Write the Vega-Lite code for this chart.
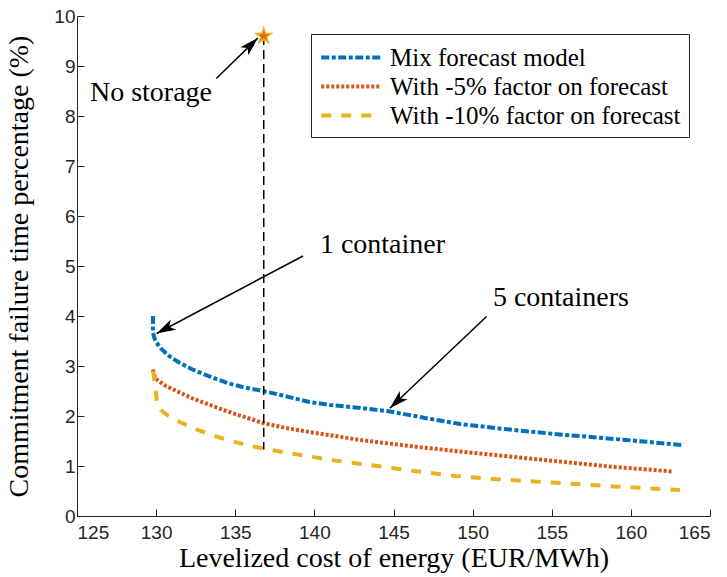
{
  "$schema": "https://vega.github.io/schema/vega-lite/v6.json",
  "width": 633,
  "height": 500,
  "autosize": {"type": "none"},
  "padding": {"left": 77, "top": 16, "right": 17, "bottom": 61},
  "background": "white",
  "config": {
    "view": {"stroke": null},
    "axis": {
      "domainColor": "#262626",
      "tickColor": "#262626",
      "labelColor": "#262626",
      "labelFont": "Liberation Sans",
      "labelFontSize": 19,
      "titleFont": "Liberation Serif",
      "titleFontSize": 28,
      "titleFontWeight": "normal",
      "titleColor": "#000000",
      "grid": false,
      "tickSize": -7
    }
  },
  "datasets": {
    "curves": [
      {"series": "Mix forecast model", "cost": 129.8, "failure": 4.0},
      {"series": "Mix forecast model", "cost": 129.8, "failure": 3.66},
      {"series": "Mix forecast model", "cost": 129.95, "failure": 3.5},
      {"series": "Mix forecast model", "cost": 130.3, "failure": 3.35},
      {"series": "Mix forecast model", "cost": 130.9, "failure": 3.18},
      {"series": "Mix forecast model", "cost": 131.5, "failure": 3.06},
      {"series": "Mix forecast model", "cost": 132.3, "failure": 2.93},
      {"series": "Mix forecast model", "cost": 133.3, "failure": 2.8},
      {"series": "Mix forecast model", "cost": 134.5, "failure": 2.66},
      {"series": "Mix forecast model", "cost": 135.6, "failure": 2.57},
      {"series": "Mix forecast model", "cost": 136.75, "failure": 2.5},
      {"series": "Mix forecast model", "cost": 138.0, "failure": 2.41},
      {"series": "Mix forecast model", "cost": 139.7, "failure": 2.28},
      {"series": "Mix forecast model", "cost": 141.0, "failure": 2.22},
      {"series": "Mix forecast model", "cost": 142.9, "failure": 2.16},
      {"series": "Mix forecast model", "cost": 144.8, "failure": 2.09},
      {"series": "Mix forecast model", "cost": 147.0, "failure": 1.96},
      {"series": "Mix forecast model", "cost": 149.2, "failure": 1.84},
      {"series": "Mix forecast model", "cost": 152.0, "failure": 1.74},
      {"series": "Mix forecast model", "cost": 155.5, "failure": 1.63},
      {"series": "Mix forecast model", "cost": 157.5, "failure": 1.58},
      {"series": "Mix forecast model", "cost": 159.7, "failure": 1.52},
      {"series": "Mix forecast model", "cost": 161.5, "failure": 1.47},
      {"series": "Mix forecast model", "cost": 163.2, "failure": 1.42},
      {"series": "With -5% factor on forecast", "cost": 129.8, "failure": 2.93},
      {"series": "With -5% factor on forecast", "cost": 129.95, "failure": 2.75},
      {"series": "With -5% factor on forecast", "cost": 130.5, "failure": 2.62},
      {"series": "With -5% factor on forecast", "cost": 131.3, "failure": 2.5},
      {"series": "With -5% factor on forecast", "cost": 132.3, "failure": 2.35},
      {"series": "With -5% factor on forecast", "cost": 133.4, "failure": 2.22},
      {"series": "With -5% factor on forecast", "cost": 134.8, "failure": 2.06},
      {"series": "With -5% factor on forecast", "cost": 136.75, "failure": 1.86},
      {"series": "With -5% factor on forecast", "cost": 138.2, "failure": 1.76},
      {"series": "With -5% factor on forecast", "cost": 139.7, "failure": 1.68},
      {"series": "With -5% factor on forecast", "cost": 141.3, "failure": 1.6},
      {"series": "With -5% factor on forecast", "cost": 142.9, "failure": 1.52},
      {"series": "With -5% factor on forecast", "cost": 146.0, "failure": 1.4},
      {"series": "With -5% factor on forecast", "cost": 149.2, "failure": 1.29},
      {"series": "With -5% factor on forecast", "cost": 152.3, "failure": 1.19},
      {"series": "With -5% factor on forecast", "cost": 155.5, "failure": 1.09},
      {"series": "With -5% factor on forecast", "cost": 159.0, "failure": 0.98},
      {"series": "With -5% factor on forecast", "cost": 162.65, "failure": 0.89},
      {"series": "With -10% factor on forecast", "cost": 129.8, "failure": 2.9},
      {"series": "With -10% factor on forecast", "cost": 129.95, "failure": 2.6},
      {"series": "With -10% factor on forecast", "cost": 130.05, "failure": 2.3},
      {"series": "With -10% factor on forecast", "cost": 130.3, "failure": 2.12},
      {"series": "With -10% factor on forecast", "cost": 130.7, "failure": 2.02},
      {"series": "With -10% factor on forecast", "cost": 131.5, "failure": 1.88},
      {"series": "With -10% factor on forecast", "cost": 132.3, "failure": 1.76},
      {"series": "With -10% factor on forecast", "cost": 133.4, "failure": 1.63},
      {"series": "With -10% factor on forecast", "cost": 134.5, "failure": 1.52},
      {"series": "With -10% factor on forecast", "cost": 135.6, "failure": 1.43},
      {"series": "With -10% factor on forecast", "cost": 136.75, "failure": 1.35},
      {"series": "With -10% factor on forecast", "cost": 138.2, "failure": 1.27},
      {"series": "With -10% factor on forecast", "cost": 139.7, "failure": 1.19},
      {"series": "With -10% factor on forecast", "cost": 141.3, "failure": 1.11},
      {"series": "With -10% factor on forecast", "cost": 143.5, "failure": 1.02},
      {"series": "With -10% factor on forecast", "cost": 146.3, "failure": 0.9},
      {"series": "With -10% factor on forecast", "cost": 149.2, "failure": 0.79},
      {"series": "With -10% factor on forecast", "cost": 152.3, "failure": 0.72},
      {"series": "With -10% factor on forecast", "cost": 155.5, "failure": 0.66},
      {"series": "With -10% factor on forecast", "cost": 159.0, "failure": 0.59},
      {"series": "With -10% factor on forecast", "cost": 163.1, "failure": 0.52}
    ],
    "nostorage": [
      {"cost": 136.8, "failure": 9.6},
      {"cost": 136.8, "failure": 1.33}
    ],
    "star": [
      {"cost": 136.8, "failure": 9.6}
    ],
    "arrows": [
      {"arrow": "No storage", "cost": 133.8, "failure": 8.75},
      {"arrow": "No storage", "cost": 136.43, "failure": 9.56},
      {"arrow": "1 container", "cost": 139.28, "failure": 5.2},
      {"arrow": "1 container", "cost": 130.03, "failure": 3.65},
      {"arrow": "5 containers", "cost": 150.88, "failure": 3.99},
      {"arrow": "5 containers", "cost": 144.77, "failure": 2.154}
    ],
    "tips": [
      {"arrow": "No storage", "cost": 136.43, "failure": 9.56},
      {"arrow": "1 container", "cost": 130.03, "failure": 3.65},
      {"arrow": "5 containers", "cost": 144.77, "failure": 2.154}
    ],
    "labels": [
      {"label": "No storage", "cost": 125.82, "failure": 8.46},
      {"label": "1 container", "cost": 140.35, "failure": 5.42},
      {"label": "5 containers", "cost": 151.28, "failure": 4.36}
    ]
  },
  "layer": [
    {
      "data": {"name": "curves"},
      "mark": {"type": "line", "strokeWidth": 4, "strokeCap": "butt"},
      "encoding": {
        "x": {
          "field": "cost", "type": "quantitative",
          "scale": {"domain": [125, 165], "nice": false, "zero": false},
          "axis": {"title": "Levelized cost of energy (EUR/MWh)", "values": [125, 130, 135, 140, 145, 150, 155, 160, 165], "labelPadding": 14, "titlePadding": 2}
        },
        "y": {
          "field": "failure", "type": "quantitative",
          "scale": {"domain": [0, 10], "nice": false},
          "axis": {"title": "Commitment failure time percentage (%)", "values": [0, 1, 2, 3, 4, 5, 6, 7, 8, 9, 10], "labelPadding": 9, "titlePadding": 20}
        },
        "color": {
          "field": "series", "type": "nominal",
          "scale": {"domain": ["Mix forecast model", "With -5% factor on forecast", "With -10% factor on forecast"], "range": ["#0072BD", "#D95319", "#EDB120"]},
          "legend": {
            "title": null, "orient": "none", "legendX": 234, "legendY": 18,
            "symbolType": "M-1,0L3.53,0", "symbolSize": 702, "symbolStrokeWidth": 4,
            "labelFont": "Liberation Serif", "labelFontSize": 25, "labelColor": "#000000",
            "labelOffset": 40, "rowPadding": 0, "padding": 8,
            "strokeColor": "#262626", "fillColor": "white", "labelLimit": 400
          }
        },
        "strokeDash": {
          "field": "series", "type": "nominal",
          "scale": {"domain": ["Mix forecast model", "With -5% factor on forecast", "With -10% factor on forecast"], "range": [[8, 2.5, 4, 2.5], [3, 2], [10, 10]]},
          "legend": {
            "title": null, "orient": "none", "legendX": 234, "legendY": 18,
            "symbolType": "M-1,0L3.53,0", "symbolSize": 702, "symbolStrokeWidth": 4,
            "labelFont": "Liberation Serif", "labelFontSize": 25, "labelColor": "#000000",
            "labelOffset": 40, "rowPadding": 0, "padding": 8,
            "strokeColor": "#262626", "fillColor": "white", "labelLimit": 400
          }
        },
        "order": {"value": null}
      }
    },
    {
      "data": {"name": "nostorage"},
      "mark": {"type": "line", "color": "#000000", "strokeWidth": 1.5, "strokeDash": [9, 5]},
      "encoding": {
        "x": {"field": "cost", "type": "quantitative"},
        "y": {"field": "failure", "type": "quantitative"},
        "order": {"value": null}
      }
    },
    {
      "data": {"name": "star"},
      "mark": {"type": "point", "shape": "M0,-1L0.2245,-0.309L0.951,-0.309L0.363,0.118L0.588,0.809L0,0.382L-0.588,0.809L-0.363,0.118L-0.951,-0.309L-0.2245,-0.309Z", "size": 260, "filled": true, "fill": "#E0661A", "stroke": "#EDB120", "strokeWidth": 1.5, "opacity": 1},
      "encoding": {
        "x": {"field": "cost", "type": "quantitative"},
        "y": {"field": "failure", "type": "quantitative"}
      }
    },
    {
      "data": {"name": "arrows"},
      "mark": {"type": "line", "color": "#000000", "strokeWidth": 1.5},
      "encoding": {
        "x": {"field": "cost", "type": "quantitative"},
        "y": {"field": "failure", "type": "quantitative"},
        "detail": {"field": "arrow", "type": "nominal"}
      }
    },
    {
      "data": {"name": "tips"},
      "transform": [{"filter": "datum.arrow === 'No storage'"}],
      "mark": {"type": "point", "shape": "M0,0L-0.6,2L0,1.5L0.6,2Z", "size": 360, "filled": true, "color": "#000000", "opacity": 1, "angle": 45.7},
      "encoding": {
        "x": {"field": "cost", "type": "quantitative"},
        "y": {"field": "failure", "type": "quantitative"}
      }
    },
    {
      "data": {"name": "tips"},
      "transform": [{"filter": "datum.arrow === '1 container'"}],
      "mark": {"type": "point", "shape": "M0,0L-0.6,2L0,1.5L0.6,2Z", "size": 360, "filled": true, "color": "#000000", "opacity": 1, "angle": 242.2},
      "encoding": {
        "x": {"field": "cost", "type": "quantitative"},
        "y": {"field": "failure", "type": "quantitative"}
      }
    },
    {
      "data": {"name": "tips"},
      "transform": [{"filter": "datum.arrow === '5 containers'"}],
      "mark": {"type": "point", "shape": "M0,0L-0.6,2L0,1.5L0.6,2Z", "size": 360, "filled": true, "color": "#000000", "opacity": 1, "angle": 226.5},
      "encoding": {
        "x": {"field": "cost", "type": "quantitative"},
        "y": {"field": "failure", "type": "quantitative"}
      }
    },
    {
      "data": {"name": "labels"},
      "mark": {"type": "text", "align": "left", "baseline": "middle", "font": "Liberation Serif", "fontSize": 28, "color": "#000000"},
      "encoding": {
        "x": {"field": "cost", "type": "quantitative"},
        "y": {"field": "failure", "type": "quantitative"},
        "text": {"field": "label", "type": "nominal"}
      }
    }
  ]
}
